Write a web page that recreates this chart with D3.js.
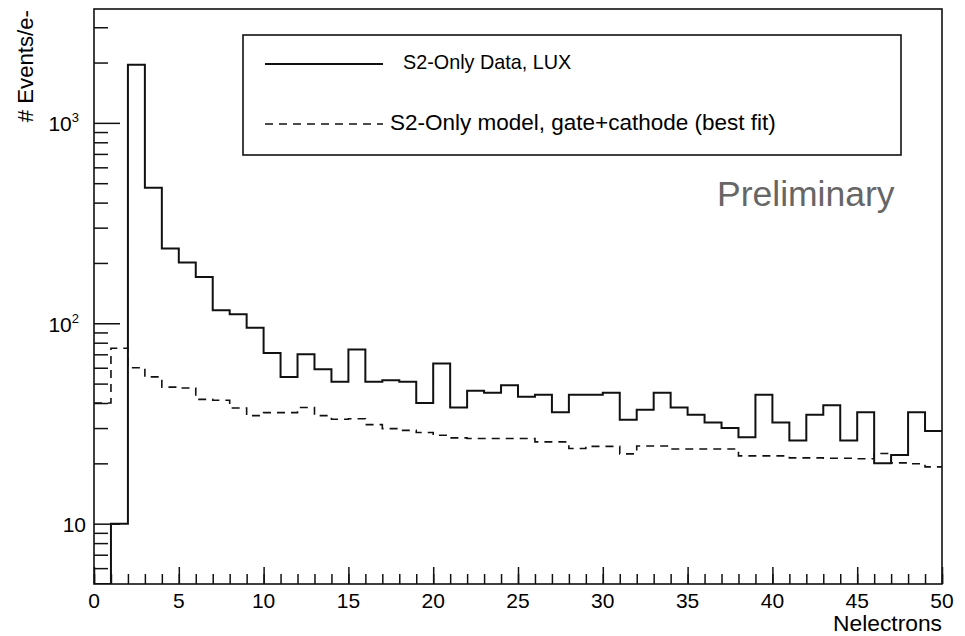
<!DOCTYPE html>
<html>
<head>
<meta charset="utf-8">
<script src="https://cdn.jsdelivr.net/npm/d3@7"></script>
<style>
  html, body { margin: 0; padding: 0; background: #fff; }
  svg { display: block; }
  text { font-family: "Liberation Sans", Arial, Helvetica, sans-serif; fill: #000; }
</style>
</head>
<body>
<svg id="chart" width="965" height="636"></svg>
<script>
// Bin edges: unit-width bins from 0 to 50 electrons
const binEdges = d3.range(0, 51);

// S2-only data (LUX), events per electron bin; bin 0 is empty
const dataCounts = [
  0, 10, 1950, 474, 236, 201, 170, 116, 111, 95,
  71, 54, 70, 59, 51, 74, 51, 52, 51, 40,
  63, 38, 46, 45, 49, 43, 44, 36, 44, 44,
  45, 33, 37, 45, 38, 35, 32, 30, 27, 44,
  32, 26, 35, 39, 26, 36, 20, 22, 36, 29
];

// S2-only model, gate+cathode (best fit)
const modelCounts = [
  40, 75, 60, 54, 48, 47.5, 41.7, 41.3, 37.8, 34.6,
  35.8, 35.8, 38, 34.6, 33.2, 33.4, 31.2, 29.8, 29.2, 28.5,
  27.6, 26.8, 26.6, 26.6, 26.6, 26.6, 25.6, 25.6, 23.7, 24.3,
  24.3, 22.3, 24.4, 24.4, 23.6, 23.6, 23.6, 23.6, 21.8, 21.8,
  21.8, 21.3, 21.3, 21.2, 21.2, 21.1, 22.4, 20.1, 19.9, 19.2
];

const xTickValues = d3.range(0, 51, 5);
const xMinorValues = d3.range(0, 51, 1);
const yMajorValues = [10, 100, 1000];
const yMinorValues = [6, 7, 8, 9, 20, 30, 40, 50, 60, 70, 80, 90,
                      200, 300, 400, 500, 600, 700, 800, 900, 2000, 3000];

const legendEntries = [
  { label: "S2-Only Data, LUX", dashed: false },
  { label: "S2-Only model, gate+cathode (best fit)", dashed: true }
];

const frame = { left: 94, right: 942, top: 9, bottom: 584 };

const svg = d3.select("#chart");

const x = d3.scaleLinear().domain([0, 50]).range([frame.left, frame.right]);
const y = d3.scaleLog().domain([5, 3700]).range([frame.bottom, frame.top]);

svg.append("defs").append("clipPath").attr("id", "frameClip")
  .append("rect")
  .attr("x", frame.left).attr("y", frame.top)
  .attr("width", frame.right - frame.left)
  .attr("height", frame.bottom - frame.top);

// Step outline of a histogram, empty bins pinned to the frame floor
function stepPoints(counts) {
  const lo = y.domain()[0];
  const pts = [];
  counts.forEach((c, i) => {
    const v = Math.max(c, lo);
    pts.push([binEdges[i], v]);
    pts.push([binEdges[i + 1], v]);
  });
  return pts;
}

const line = d3.line().x(d => x(d[0])).y(d => y(d[1]));

const plot = svg.append("g").attr("clip-path", "url(#frameClip)");

plot.append("path")
  .datum(stepPoints(modelCounts))
  .attr("d", line)
  .attr("fill", "none")
  .attr("stroke", "#111")
  .attr("stroke-width", 1.6)
  .attr("stroke-dasharray", "8,6");

plot.append("path")
  .datum(stepPoints(dataCounts))
  .attr("d", line)
  .attr("fill", "none")
  .attr("stroke", "#111")
  .attr("stroke-width", 2);

// Axes: ticks drawn inward from the frame edges
const xMinorAxis = d3.axisTop(x).tickValues(xMinorValues).tickSize(10).tickFormat("");
const xMajorAxis = d3.axisTop(x).tickValues(xTickValues).tickSize(17).tickFormat("");
const yMinorAxis = d3.axisRight(y).tickValues(yMinorValues).tickSize(14).tickFormat("");
const yMajorAxis = d3.axisRight(y).tickValues(yMajorValues).tickSize(26).tickFormat("");

[xMinorAxis, xMajorAxis].forEach(ax => {
  svg.append("g").attr("transform", `translate(0,${frame.bottom})`).call(ax)
    .call(g => g.select(".domain").remove())
    .call(g => g.selectAll("line").attr("stroke", "#111").attr("stroke-width", 1.5));
});
[yMinorAxis, yMajorAxis].forEach(ax => {
  svg.append("g").attr("transform", `translate(${frame.left},0)`).call(ax)
    .call(g => g.select(".domain").remove())
    .call(g => g.selectAll("line").attr("stroke", "#111").attr("stroke-width", 1.5));
});

// Frame box
svg.append("rect")
  .attr("x", frame.left).attr("y", frame.top)
  .attr("width", frame.right - frame.left)
  .attr("height", frame.bottom - frame.top)
  .attr("fill", "none").attr("stroke", "#111").attr("stroke-width", 1.6);

// X tick labels
svg.append("g").selectAll("text")
  .data(xTickValues).join("text")
  .attr("x", d => x(d)).attr("y", frame.bottom + 24)
  .attr("text-anchor", "middle")
  .attr("font-size", 21)
  .text(d => d);

// Y tick labels: 10, 10^2, 10^3
const yLab = svg.append("g");
yMajorValues.forEach(v => {
  const exp = Math.round(Math.log10(v));
  const t = yLab.append("text")
    .attr("y", y(v) + 8.5)
    .attr("text-anchor", "end")
    .attr("font-size", 21);
  if (exp === 1) {
    t.attr("x", frame.left - 8).text("10");
  } else {
    t.attr("x", frame.left - 15);
    t.append("tspan").text("10");
    t.append("tspan").attr("font-size", 13).attr("dy", -9).text(exp);
  }
});

// Axis titles
svg.append("text")
  .attr("x", frame.right).attr("y", 631)
  .attr("text-anchor", "end")
  .attr("font-size", 22.8)
  .text("Nelectrons");

svg.append("text")
  .attr("transform", `translate(33,${frame.top + 1}) rotate(-90)`)
  .attr("text-anchor", "end")
  .attr("font-size", 22.2)
  .text("# Events/e-");

// Legend
const legend = { x: 243, y: 35, w: 658, h: 120 };
svg.append("rect")
  .attr("x", legend.x).attr("y", legend.y)
  .attr("width", legend.w).attr("height", legend.h)
  .attr("fill", "#fff").attr("stroke", "#111").attr("stroke-width", 1.6);

const legendRows = [
  { ly: 64, tx: 403, ty: 69, size: 19.8 },
  { ly: 124, tx: 390, ty: 130, size: 22.5 }
];
legendEntries.forEach((e, i) => {
  const r = legendRows[i];
  svg.append("line")
    .attr("x1", 265).attr("x2", 383).attr("y1", r.ly).attr("y2", r.ly)
    .attr("stroke", "#111")
    .attr("stroke-width", e.dashed ? 1.6 : 2)
    .attr("stroke-dasharray", e.dashed ? "8,6" : null);
  svg.append("text")
    .attr("x", r.tx).attr("y", r.ty)
    .attr("font-size", r.size)
    .text(e.label);
});

svg.append("text")
  .attr("x", 717).attr("y", 206)
  .attr("font-size", 35.5)
  .style("fill", "#666")
  .text("Preliminary");
</script>
</body>
</html>
